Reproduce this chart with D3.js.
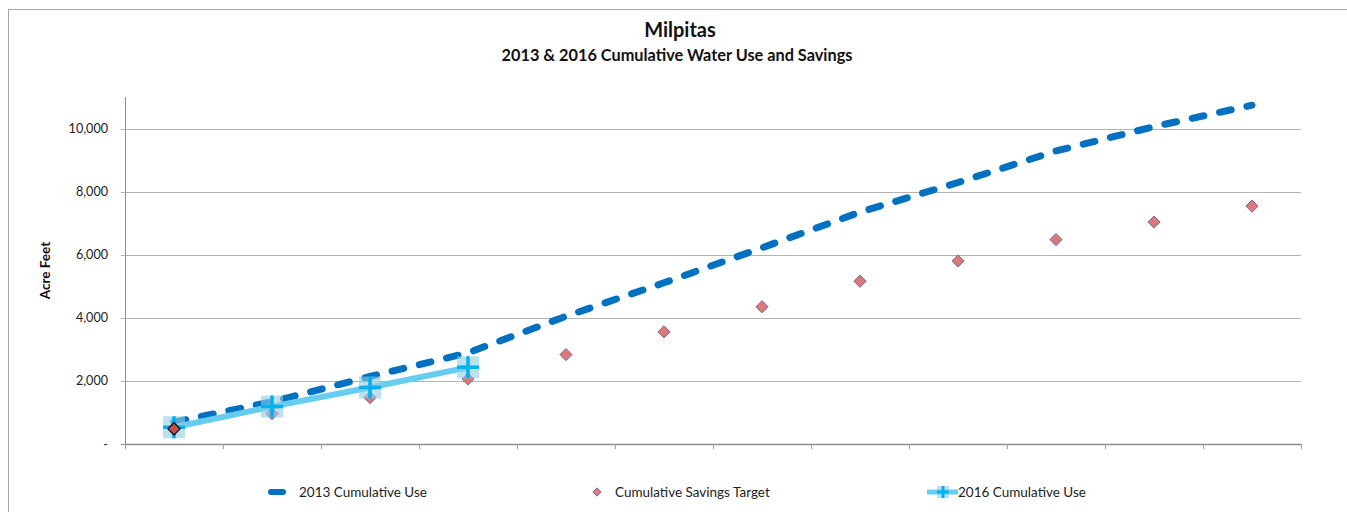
<!DOCTYPE html>
<html>
<head>
<meta charset="utf-8">
<script src="https://cdn.jsdelivr.net/npm/d3@7"></script>
<style>
  body { margin: 0; background: #fff; }
  svg { display: block; font-family: Lato, "Open Sans", sans-serif; }
</style>
</head>
<body>
<div id="vis"></div>
<script>
const months = ["Jun", "Jul", "Aug", "Sep", "Oct", "Nov", "Dec", "Jan", "Feb", "Mar", "Apr", "May"];
const use2013 = [690, 1340, 2140, 2890, 4050, 5110, 6220, 7350, 8290, 9290, 10060, 10740];
const savingsTarget = [480, 960, 1470, 2060, 2835, 3555, 4350, 5160, 5800, 6480, 7035, 7540];
const use2016 = [530, 1185, 1790, 2430];
const yTicks = [0, 2000, 4000, 6000, 8000, 10000];

const W = 1347, H = 512;
const margin = { top: 97, right: 46, bottom: 68, left: 125 };

const svg = d3.select("#vis").append("svg")
  .attr("width", W)
  .attr("height", H);

// outer chart frame
svg.append("rect")
  .attr("x", 8.5).attr("y", 9.5)
  .attr("width", W).attr("height", H)
  .attr("fill", "none")
  .attr("stroke", "#a6a6a6");

const x = d3.scaleBand()
  .domain(months)
  .range([margin.left, W - margin.right]);

const y = d3.scaleLinear()
  .domain([0, 11000])
  .range([H - margin.bottom, margin.top]);

// gridlines
svg.append("g")
  .selectAll("line")
  .data(yTicks.filter(d => d > 0))
  .join("line")
  .attr("x1", margin.left - 4)
  .attr("x2", W - margin.right)
  .attr("y1", d => Math.round(y(d)) + 0.5)
  .attr("y2", d => Math.round(y(d)) + 0.5)
  .attr("stroke", "#b3b3b3");

// y axis
svg.append("line")
  .attr("x1", margin.left + 0.5).attr("x2", margin.left + 0.5)
  .attr("y1", margin.top).attr("y2", y(0))
  .attr("stroke", "#8c8c8c");

svg.append("g")
  .selectAll("text")
  .data(yTicks)
  .join("text")
  .attr("x", margin.left - 17)
  .attr("y", d => y(d) + 4.5)
  .attr("text-anchor", "end")
  .attr("font-size", 12.6)
  .attr("fill", "#222")
  .text(d => d === 0 ? "-" : d3.format(",")(d));

svg.append("line")
  .attr("x1", margin.left - 4).attr("x2", margin.left)
  .attr("y1", Math.round(y(0)) + 0.5).attr("y2", Math.round(y(0)) + 0.5)
  .attr("stroke", "#8c8c8c");

// x axis
svg.append("line")
  .attr("x1", margin.left).attr("x2", W - margin.right)
  .attr("y1", Math.round(y(0)) + 0.5).attr("y2", Math.round(y(0)) + 0.5)
  .attr("stroke", "#8c8c8c")
  .attr("stroke-width", 1.3);

const boundaries = months.map(m => x(m)).concat([x.range()[1]]);
svg.append("g")
  .selectAll("line")
  .data(boundaries)
  .join("line")
  .attr("x1", d => Math.round(d) + 0.5)
  .attr("x2", d => Math.round(d) + 0.5)
  .attr("y1", y(0))
  .attr("y2", y(0) + 5)
  .attr("stroke", "#a0a0a0");

const cx = i => x(months[i]) + x.bandwidth() / 2;

// 2013 cumulative use
const line = d3.line()
  .x((d, i) => cx(i))
  .y(d => y(d));

svg.append("path")
  .datum(use2013)
  .attr("fill", "none")
  .attr("stroke", "#0070c0")
  .attr("stroke-width", 7)
  .attr("stroke-linecap", "round")
  .attr("stroke-dasharray", "12,16")
  .attr("d", line);

// 2016 cumulative use
svg.append("path")
  .datum(use2016)
  .attr("fill", "none")
  .attr("stroke", "#66ccf2")
  .attr("stroke-width", 6)
  .attr("d", line);

// savings target diamonds (first one is drawn later, above the 2016 marker)
const diamond = d3.symbol().type(d3.symbolDiamond2).size(95);
svg.append("g")
  .selectAll("path")
  .data(savingsTarget.slice(1))
  .join("path")
  .attr("transform", (d, i) => `translate(${cx(i + 1)},${y(d)})`)
  .attr("d", diamond)
  .attr("fill", "#d97a76")
  .attr("stroke", "#8064a2")
  .attr("stroke-width", 1);

// 2016 markers
const m2016 = svg.append("g")
  .selectAll("g")
  .data(use2016)
  .join("g")
  .attr("transform", (d, i) => `translate(${cx(i)},${y(d)})`);

m2016.append("rect")
  .attr("x", -11).attr("y", -11)
  .attr("width", 22).attr("height", 22)
  .attr("fill", "#8fcde3")
  .attr("opacity", 0.6);

m2016.append("path")
  .attr("d", "M-11,0H11M0,-11V11")
  .attr("stroke", "#00b0f0")
  .attr("stroke-width", 3.5);

svg.append("path")
  .attr("transform", `translate(${cx(0)},${y(savingsTarget[0])})`)
  .attr("d", diamond)
  .attr("fill", "#c0504d")
  .attr("stroke", "#111")
  .attr("stroke-width", 1.3);

// titles
svg.append("text")
  .attr("x", 680).attr("y", 37)
  .attr("text-anchor", "middle")
  .attr("font-size", 20)
  .attr("font-weight", "bold")
  .attr("fill", "#111")
  .text("Milpitas");

svg.append("text")
  .attr("x", 677).attr("y", 61)
  .attr("text-anchor", "middle")
  .attr("font-size", 16.3)
  .attr("font-weight", "bold")
  .attr("fill", "#111")
  .text("2013 & 2016 Cumulative Water Use and Savings");

svg.append("text")
  .attr("transform", `translate(50,${(margin.top + y(0)) / 2}) rotate(-90)`)
  .attr("text-anchor", "middle")
  .attr("font-size", 13.5)
  .attr("font-weight", "bold")
  .attr("fill", "#111")
  .text("Acre Feet");

// legend
const ly = 492;
const legend = svg.append("g").attr("font-size", 13.5).attr("fill", "#222");

legend.append("line")
  .attr("x1", 271).attr("x2", 296)
  .attr("y1", ly).attr("y2", ly)
  .attr("stroke", "#0070c0")
  .attr("stroke-width", 6)
  .attr("stroke-linecap", "round")
  .attr("stroke-dasharray", "12,13");
legend.append("text").attr("x", 299).attr("y", ly + 5).text("2013 Cumulative Use");

legend.append("path")
  .attr("transform", `translate(597,${ly})`)
  .attr("d", d3.symbol().type(d3.symbolDiamond2).size(45))
  .attr("fill", "#d97a76")
  .attr("stroke", "#8064a2");
legend.append("text").attr("x", 615).attr("y", ly + 5).text("Cumulative Savings Target");

legend.append("line")
  .attr("x1", 927).attr("x2", 958)
  .attr("y1", ly).attr("y2", ly)
  .attr("stroke", "#66ccf2")
  .attr("stroke-width", 5);
legend.append("rect")
  .attr("x", 937).attr("y", ly - 6)
  .attr("width", 12).attr("height", 12)
  .attr("fill", "#8fcde3").attr("opacity", 0.6);
legend.append("path")
  .attr("d", `M937,${ly}H949M943,${ly - 6}V${ly + 6}`)
  .attr("stroke", "#00b0f0").attr("stroke-width", 3);
legend.append("text").attr("x", 958).attr("y", ly + 5).text("2016 Cumulative Use");
</script>
</body>
</html>
